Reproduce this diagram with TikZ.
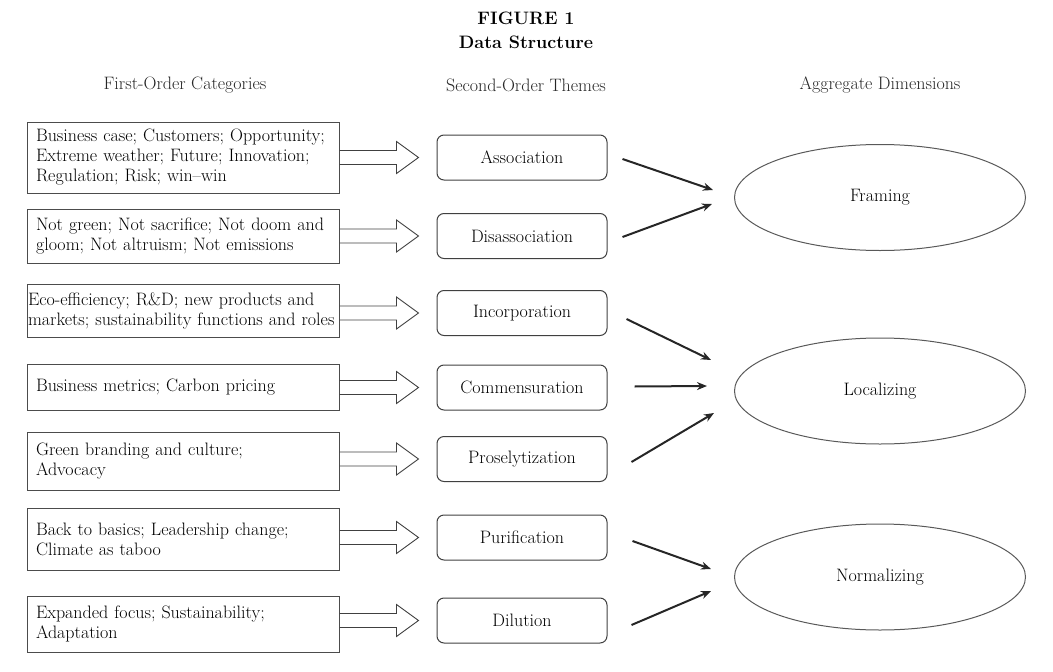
\documentclass[tikz,border=0pt]{standalone}
\usepackage{fontspec}
\usepackage{tikz}
\usetikzlibrary{positioning, arrows.meta, shapes.geometric, calc}

\begin{document}
\begin{tikzpicture}[x=1pt,y=-1pt,semithick,
    every node/.style={font=\fontsize{18}{20}\selectfont, text=black},
    heading/.style={font=\fontsize{18}{22}\selectfont\bfseries},
    column/.style={text=black!85},
    cat/.style={draw=black!70, line width=1pt, rectangle, text width=294pt, inner xsep=9pt, inner ysep=0pt, align=left},
    theme/.style={draw=black!75, line width=1pt, rounded corners=7pt, minimum width=170pt, minimum height=45pt},
    dimension/.style={draw=black!65, line width=1pt, ellipse, minimum width=291pt, minimum height=106pt},
    hollow/.style={draw=black!75, line width=0.9pt},
    link/.style={-{Stealth[length=10pt,width=8pt]}, line width=2pt, black!85},
  ]

    \useasboundingbox (0,0) rectangle (1053,672);

    % title and column heads
    \node[heading] (fig) at (526,18) {FIGURE 1};
    \node[heading] (title) at (526,42) {Data Structure};
    \node[column] (first) at (185,85) {First-Order Categories};
    \node[column] (second) at (526,85) {Second-Order Themes};
    \node[column] (aggregate) at (880,85) {Aggregate Dimensions};

    % first-order categories
    \node[cat, minimum height=71pt] (cat1) at (183,157.5) {Business case; Customers; Opportunity;\\ Extreme weather; Future; Innovation;\\ Regulation; Risk; win--win};
    \node[cat, minimum height=54pt] (cat2) at (183,236) {Not green; Not sacrifice; Not doom and\\ gloom; Not altruism; Not emissions};
    \node[cat, minimum height=53pt, text width=310pt, inner xsep=1pt] (cat3) at (183,310.5) {Eco-efficiency; R\&D; new products and\\ markets; sustainability functions and roles};
    \node[cat, minimum height=46pt] (cat4) at (183,387) {Business metrics; Carbon pricing};
    \node[cat, minimum height=58pt] (cat5) at (183,461) {Green branding and culture;\\ Advocacy};
    \node[cat, minimum height=62pt] (cat6) at (183,539) {Back to basics; Leadership change;\\ Climate as taboo};
    \node[cat, minimum height=56pt] (cat7) at (183,624) {Expanded focus; Sustainability;\\ Adaptation};

    % second-order themes
    \node[theme] (assoc) at (522,157.5) {Association};
    \node[theme] (disassoc) at (522,236) {Disassociation};
    \node[theme] (incorp) at (522,313) {Incorporation};
    \node[theme] (commens) at (522,387.5) {Commensuration};
    \node[theme] (prosel) at (522,459) {Proselytization};
    \node[theme] (purif) at (522,537.5) {Purification};
    \node[theme] (dilut) at (522,620.5) {Dilution};

    % aggregate dimensions
    \node[dimension] (framing) at (880,197.5) {Framing};
    \node[dimension] (localizing) at (880,391) {Localizing};
    \node[dimension] (normalizing) at (880,577) {Normalizing};

    % hollow arrows
    \draw[hollow] ($(cat1.east |- assoc.west)+(0,-7)$) -- ++(57,0) -- ++(0,-9) -- ++(22,16) -- ++(-22,16) -- ++(0,-9) -- ++(-57,0);
    \draw[hollow] ($(cat2.east |- disassoc.west)+(0,-7)$) -- ++(57,0) -- ++(0,-9) -- ++(22,16) -- ++(-22,16) -- ++(0,-9) -- ++(-57,0);
    \draw[hollow] ($(cat3.east |- incorp.west)+(0,-7)$) -- ++(57,0) -- ++(0,-9) -- ++(22,16) -- ++(-22,16) -- ++(0,-9) -- ++(-57,0);
    \draw[hollow] ($(cat4.east |- commens.west)+(0,-7)$) -- ++(57,0) -- ++(0,-9) -- ++(22,16) -- ++(-22,16) -- ++(0,-9) -- ++(-57,0);
    \draw[hollow] ($(cat5.east |- prosel.west)+(0,-7)$) -- ++(57,0) -- ++(0,-9) -- ++(22,16) -- ++(-22,16) -- ++(0,-9) -- ++(-57,0);
    \draw[hollow] ($(cat6.east |- purif.west)+(0,-7)$) -- ++(57,0) -- ++(0,-9) -- ++(22,16) -- ++(-22,16) -- ++(0,-9) -- ++(-57,0);
    \draw[hollow] ($(cat7.east |- dilut.west)+(0,-7)$) -- ++(57,0) -- ++(0,-9) -- ++(22,16) -- ++(-22,16) -- ++(0,-9) -- ++(-57,0);

    % arrow ends in front of the ellipses
    \coordinate (fr1) at (713,190);
    \coordinate (fr2) at (712,204);
    \coordinate (lo1) at (711,360);
    \coordinate (lo2) at (707,386);
    \coordinate (lo3) at (714,413);
    \coordinate (no1) at (711,569);
    \coordinate (no2) at (711,591);

    \draw[link] ($(assoc.east)+(15,1.5)$) -- (fr1);
    \draw[link] ($(disassoc.east)+(15,1)$) -- (fr2);
    \draw[link] ($(incorp.east)+(19,6)$) -- (lo1);
    \draw[link] ($(commens.east)+(27,-1)$) -- (lo2);
    \draw[link] ($(prosel.east)+(24,3)$) -- (lo3);
    \draw[link] ($(purif.east)+(25,3.5)$) -- (no1);
    \draw[link] ($(dilut.east)+(24,4.5)$) -- (no2);

\end{tikzpicture}
\end{document}
